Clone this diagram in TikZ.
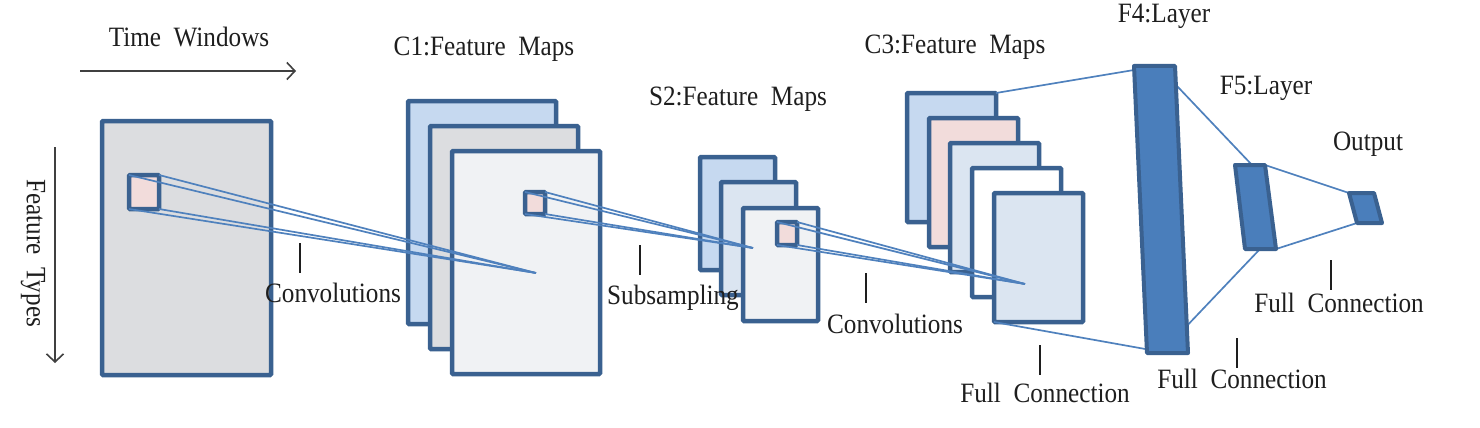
\documentclass[tikz,border=0pt]{standalone}
\usepackage{fontspec}
\setmainfont{Liberation Serif}[FakeStretch=0.9]
\usetikzlibrary{arrows.meta}
\definecolor{bordc}{HTML}{3A6190}
\definecolor{fillblue}{HTML}{C6D9F0}
\definecolor{fillgray}{HTML}{DCDDE0}
\definecolor{fillpink}{HTML}{F2DCDB}
\definecolor{filllight}{HTML}{F0F2F4}
\definecolor{fillpale}{HTML}{DBE5F1}
\definecolor{linkc}{HTML}{4F81BD}
\definecolor{layerc}{HTML}{4A7EBB}
\definecolor{txtc}{HTML}{1E1E1E}
\begin{document}
\begin{tikzpicture}[x=1pt,y=-1pt,
 mapbox/.style={draw=bordc, line width=4.5pt, rounded corners=1pt, inner sep=0pt, outer sep=0pt, anchor=north west},
 link/.style={draw=linkc, line width=1.7pt},
 layer/.style={draw=bordc, fill=layerc, line width=4pt, line join=round},
 lbl/.style={text=txtc, font=\fontsize{28}{30}\selectfont, inner sep=0pt, anchor=base},
 tickline/.style={draw=txtc, line width=1.4pt},
 axis/.style={draw=black!75, line width=1.6pt, -{Straight Barb[length=8pt,width=17pt,line width=1.6pt]}}]
\useasboundingbox[fill=white] (0,0) rectangle (1480,428);

% input
\node[mapbox, fill=fillgray, minimum width=169pt, minimum height=254pt] (in) at (102,121) {};
\node[mapbox, fill=fillpink, minimum width=30pt, minimum height=34pt] (sq1) at (129,175) {};

% C1
\node[mapbox, fill=fillblue, minimum width=148pt, minimum height=223pt] (c1a) at (408,101) {};
\node[mapbox, fill=fillgray, minimum width=148pt, minimum height=223pt] (c1b) at (430,126) {};
\node[mapbox, fill=filllight, minimum width=148pt, minimum height=223pt] (c1c) at (452,151) {};
\coordinate (p1) at (536,273);
\draw[link] (sq1.north west) -- (p1);
\draw[link] (sq1.north east) -- (p1);
\draw[link] (sq1.south west) -- (p1);
\draw[link] (sq1.south east) -- (p1);
\node[mapbox, fill=fillpink, minimum width=20pt, minimum height=22pt] (sq2) at (525,192) {};

% S2
\node[mapbox, fill=fillblue, minimum width=75pt, minimum height=113pt] (s2a) at (700,157) {};
\node[mapbox, fill=fillpale, minimum width=75pt, minimum height=113pt] (s2b) at (721,182) {};
\node[mapbox, fill=filllight, minimum width=75pt, minimum height=113pt] (s2c) at (743,208) {};
\coordinate (p2) at (753,248);
\draw[link] (sq2.north west) -- (p2);
\draw[link] (sq2.north east) -- (p2);
\draw[link] (sq2.south west) -- (p2);
\draw[link] (sq2.south east) -- (p2);
\node[mapbox, fill=fillpink, minimum width=20pt, minimum height=23pt] (sq3) at (777,222) {};

% C3
\node[mapbox, fill=fillblue, minimum width=89pt, minimum height=129pt] (c3a) at (907,93) {};
\node[mapbox, fill=fillpink, minimum width=89pt, minimum height=129pt] (c3b) at (929,118) {};
\node[mapbox, fill=fillpale, minimum width=89pt, minimum height=129pt] (c3c) at (950,143) {};
\node[mapbox, fill=white, minimum width=89pt, minimum height=129pt] (c3d) at (972,168) {};
\node[mapbox, fill=fillpale, minimum width=89pt, minimum height=129pt] (c3e) at (994,193) {};
\coordinate (p3) at (1025,284);
\draw[link] (sq3.north west) -- (p3);
\draw[link] (sq3.north east) -- (p3);
\draw[link] (sq3.south west) -- (p3);
\draw[link] (sq3.south east) -- (p3);

% F layers
\coordinate (f4a) at (1134,66);
\coordinate (f4b) at (1175,66);
\coordinate (f4c) at (1188,353);
\coordinate (f4d) at (1147,353);
\coordinate (f4top) at (1158,66);
\coordinate (f4bot) at (1162,352);
\coordinate (f5a) at (1235,165);
\coordinate (f5b) at (1265,165);
\coordinate (f5c) at (1276,249);
\coordinate (f5d) at (1245,249);
\coordinate (f5top) at (1252,165);
\coordinate (f5bot) at (1260,249);
\coordinate (oa) at (1349,193);
\coordinate (ob) at (1374,193);
\coordinate (oc) at (1382,223);
\coordinate (od) at (1357,223);

\draw[link] (c3a.north east) -- (f4top);
\draw[link] (c3e.south west) -- (f4bot);
\draw[link] (f4top) -- (f5top);
\draw[link] (f4bot) -- (f5bot);
\draw[link] (f5b) -- (oa);
\draw[link] (f5c) -- (od);

\draw[layer] (f4a) -- (f4b) -- (f4c) -- (f4d) -- cycle;
\draw[layer] (f5a) -- (f5b) -- (f5c) -- (f5d) -- cycle;
\draw[layer] (oa) -- (ob) -- (oc) -- (od) -- cycle;

% axes
\coordinate (tw1) at (80,71);
\coordinate (tw2) at (296,71);
\draw[axis] (tw1) -- (tw2);
\coordinate (ft1) at (55,147);
\coordinate (ft2) at (55,363);
\draw[axis] (ft1) -- (ft2);
\node[lbl] (twl) at (189,47) {Time\ \ Windows};
\node[lbl, anchor=center, rotate=-90] (ftl) at (33,253) {Feature\ \ Types};

% titles
\node[lbl] (c1l) at (484,56) {C1:Feature\ \ Maps};
\node[lbl] (s2l) at (738,105) {S2:Feature\ \ Maps};
\node[lbl] (c3l) at (955,53) {C3:Feature\ \ Maps};
\node[lbl] (f4l) at (1164,23) {F4:Layer};
\node[lbl] (f5l) at (1266,94) {F5:Layer};
\node[lbl] (outl) at (1368,150) {Output};

% ticks and step labels
\coordinate (t1a) at (300,243); \coordinate (t1b) at (300,273);
\draw[tickline] (t1a) -- (t1b);
\node[lbl] (cv1) at (333,302) {Convolutions};
\coordinate (t2a) at (640,245); \coordinate (t2b) at (640,275);
\draw[tickline] (t2a) -- (t2b);
\node[lbl] (sub) at (673,304) {Subsampling};
\coordinate (t3a) at (866,273); \coordinate (t3b) at (866,303);
\draw[tickline] (t3a) -- (t3b);
\node[lbl] (cv2) at (895,333) {Convolutions};
\coordinate (t4a) at (1040,345); \coordinate (t4b) at (1040,375);
\draw[tickline] (t4a) -- (t4b);
\node[lbl] (fc1) at (1045,402) {Full\ \ Connection};
\coordinate (t5a) at (1237,338); \coordinate (t5b) at (1237,368);
\draw[tickline] (t5a) -- (t5b);
\node[lbl] (fc2) at (1242,388) {Full\ \ Connection};
\coordinate (t6a) at (1331,260); \coordinate (t6b) at (1331,290);
\draw[tickline] (t6a) -- (t6b);
\node[lbl] (fc3) at (1339,312) {Full\ \ Connection};
\end{tikzpicture}
\end{document}
